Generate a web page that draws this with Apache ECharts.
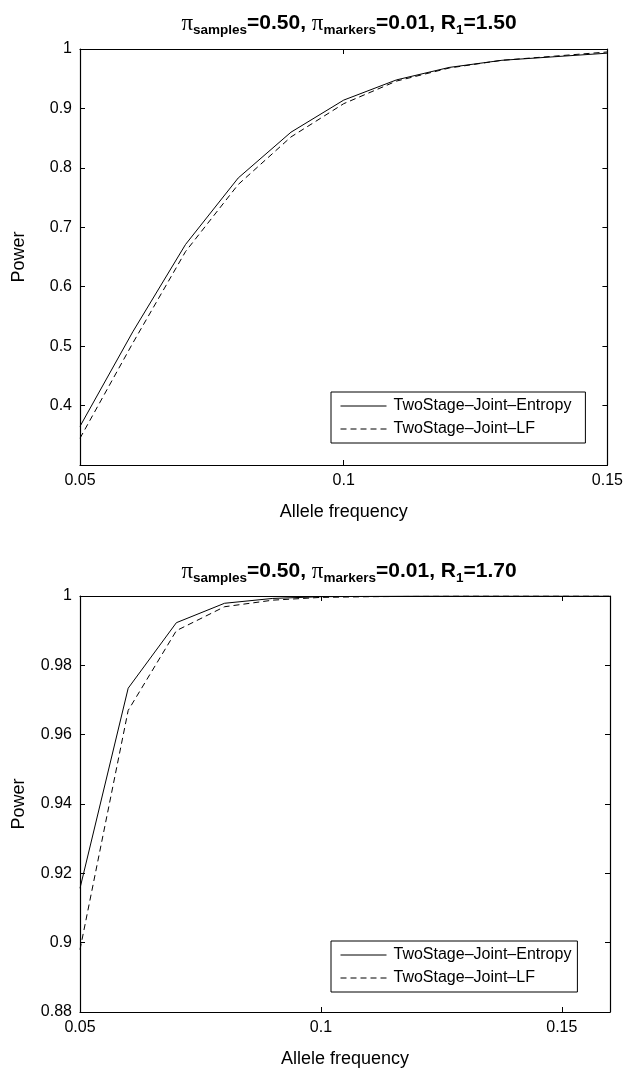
<!DOCTYPE html>
<html>
<head>
<meta charset="utf-8">
<script src="https://cdn.jsdelivr.net/npm/echarts@6/dist/echarts.min.js"></script>
<style>
  html, body { margin: 0; padding: 0; background: #fff; }
  #chart { width: 626px; height: 1070px; }
</style>
</head>
<body>
<div id="chart"></div>
<script>
// ---- data ----
var freqTop = [0.05, 0.06, 0.07, 0.08, 0.09, 0.10, 0.11, 0.12, 0.13, 0.14, 0.15];
var entropyTop = [0.365, 0.524, 0.671, 0.783, 0.860, 0.914, 0.948, 0.969, 0.981, 0.987, 0.993];
var lfTop = [0.345, 0.505, 0.659, 0.772, 0.852, 0.908, 0.946, 0.968, 0.981, 0.988, 0.995];

var freqBottom = [0.05, 0.06, 0.07, 0.08, 0.09, 0.10, 0.11, 0.12, 0.13, 0.14, 0.15, 0.16];
var entropyBottom = [0.9157, 0.9734, 0.9923, 0.9979, 0.9993, 0.9998, 0.9999, 1, 1, 1, 1, 1];
var lfBottom = [0.898, 0.967, 0.990, 0.9969, 0.9988, 0.9996, 0.9998, 0.9999, 1, 1, 1, 1];

var seriesNames = ['TwoStage\u2013Joint\u2013Entropy', 'TwoStage\u2013Joint\u2013LF'];
var titleTop = '{pi|\u03c0}{sub|samples}{b|=0.50, }{pi|\u03c0}{sub|markers}{b|=0.01, R}{sub|1}{b|=1.50}';
var titleBottom = '{pi|\u03c0}{sub|samples}{b|=0.50, }{pi|\u03c0}{sub|markers}{b|=0.01, R}{sub|1}{b|=1.70}';

function pairs(xs, ys) {
    return xs.map(function (x, i) { return [x, ys[i]]; });
}

function fmt(v) {
    return String(+v.toFixed(4));
}

var font = 'Liberation Sans';

var titleRich = {
    b: { fontFamily: font, fontWeight: 'bold', fontSize: 21, color: '#000' },
    pi: { fontFamily: 'Liberation Serif', fontWeight: 'normal', fontSize: 23, color: '#000' },
    sub: { fontFamily: font, fontWeight: 'bold', fontSize: 13.5, color: '#000', padding: [13, 0, 0, 0] }
};

function bottomAxis(grid, min, max) {
    return {
        type: 'value', gridIndex: grid, min: min, max: max, interval: 0.05,
        name: 'Allele frequency', nameLocation: 'middle', nameGap: 38,
        nameTextStyle: { fontFamily: font, fontSize: 18, color: '#000' },
        axisLine: { lineStyle: { color: '#000', width: 1.2 } },
        axisTick: { inside: true, length: 5, lineStyle: { color: '#000' } },
        axisLabel: { fontFamily: font, fontSize: 16, color: '#000', margin: 8, showMaxLabel: grid === 0, formatter: fmt },
        splitLine: { show: false }
    };
}

function topAxis(grid, min, max) {
    return {
        type: 'value', gridIndex: grid, min: min, max: max, interval: 0.05, position: 'top',
        axisLine: { lineStyle: { color: '#000', width: 1.2 } },
        axisTick: { inside: true, length: 5, lineStyle: { color: '#000' } },
        axisLabel: { show: false },
        splitLine: { show: false }
    };
}

function leftAxis(grid, min, max, step, hideMin) {
    return {
        type: 'value', gridIndex: grid, min: min, max: max, interval: step,
        name: 'Power', nameLocation: 'middle', nameGap: 52,
        nameTextStyle: { fontFamily: font, fontSize: 18, color: '#000' },
        axisLine: { show: true, lineStyle: { color: '#000', width: 1.2 } },
        axisTick: { show: true, inside: true, length: 5, lineStyle: { color: '#000' } },
        axisLabel: { fontFamily: font, fontSize: 16, color: '#000', margin: 8, showMinLabel: !hideMin, formatter: fmt },
        splitLine: { show: false }
    };
}

function rightAxis(grid, min, max, step) {
    return {
        type: 'value', gridIndex: grid, min: min, max: max, interval: step, position: 'right',
        axisLine: { show: true, lineStyle: { color: '#000', width: 1.2 } },
        axisTick: { show: true, inside: true, length: 5, lineStyle: { color: '#000' } },
        axisLabel: { show: false },
        splitLine: { show: false }
    };
}

function lineSeries(name, xi, yi, data, dashed) {
    return {
        name: name, type: 'line', xAxisIndex: xi, yAxisIndex: yi,
        data: data, symbol: 'none', silent: true, animation: false,
        lineStyle: { color: '#000', width: 1, type: dashed ? [6, 4] : 'solid' },
        itemStyle: { color: '#000' }
    };
}

function legend(top, right) {
    return {
        orient: 'vertical', left: 331, top: top,
        backgroundColor: '#fff', borderColor: '#000', borderWidth: 1,
        padding: [6, right, 6, 9], itemGap: 7, itemWidth: 46, itemHeight: 14,
        itemStyle: { opacity: 0 },
        lineStyle: { width: 1 },
        textStyle: { fontFamily: font, fontSize: 16, color: '#000', padding: [0, 0, 0, 2] },
        data: seriesNames
    };
}

var chart = echarts.init(document.getElementById('chart'), null, { renderer: 'canvas' });

var option = {
    backgroundColor: '#fff',
    animation: false,
    title: [
        { text: titleTop, left: 344, top: 5, textAlign: 'center', textStyle: { rich: titleRich } },
        { text: titleBottom, left: 344, top: 553, textAlign: 'center', textStyle: { rich: titleRich } }
    ],
    legend: [legend(392, 14), legend(941, 6)],
    grid: [
        { left: 80, right: 16, top: 49, height: 416 },
        { left: 80, right: 16, top: 596, height: 416 }
    ],
    xAxis: [
        bottomAxis(0, 0.05, 0.15), topAxis(0, 0.05, 0.15),
        bottomAxis(1, 0.05, 0.16), topAxis(1, 0.05, 0.16)
    ],
    yAxis: [
        leftAxis(0, 0.3, 1, 0.1, true), rightAxis(0, 0.3, 1, 0.1),
        leftAxis(1, 0.88, 1, 0.02, false), rightAxis(1, 0.88, 1, 0.02)
    ],
    series: [
        lineSeries(seriesNames[0], 0, 0, pairs(freqTop, entropyTop), false),
        lineSeries(seriesNames[1], 0, 0, pairs(freqTop, lfTop), true),
        lineSeries(seriesNames[0], 2, 2, pairs(freqBottom, entropyBottom), false),
        lineSeries(seriesNames[1], 2, 2, pairs(freqBottom, lfBottom), true)
    ]
};

chart.setOption(option);
</script>
</body>
</html>
